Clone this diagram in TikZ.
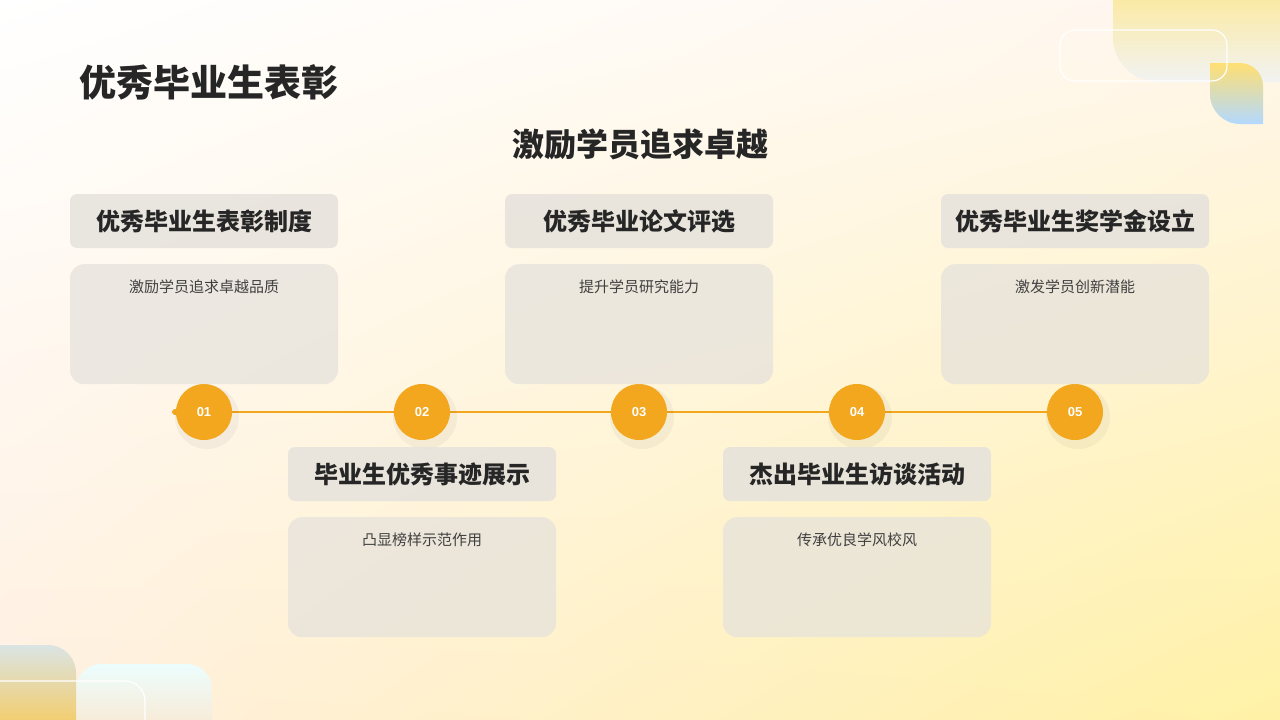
\documentclass[tikz,border=0pt]{standalone}
\usepackage{fontspec}
\usetikzlibrary{shadings}
\newfontfamily\cjk{Noto Sans CJK SC}
\newfontfamily\lsans{Liberation Sans}
\newcommand\cjkb{\cjk\bfseries}
\definecolor{dotc}{HTML}{F2A71E}
\definecolor{boxc}{HTML}{E6E2DC}
\begin{document}
\begin{tikzpicture}[x=1pt,y=-1pt,
  hdr/.style={fill=boxc,fill opacity=0.85,rounded corners=7pt,minimum width=268pt,minimum height=54pt,font=\cjkb\fontsize{24}{26}\selectfont,text=black!85,text opacity=1},
  cnt/.style={fill=boxc,fill opacity=0.75,rounded corners=14pt,minimum width=268pt,minimum height=120pt,anchor=north},
  lbl/.style={text=black!75,font=\cjk\fontsize{15}{17}\selectfont,anchor=north},
  dot/.style={circle,fill=dotc,minimum size=56pt,text=white,font=\lsans\bfseries\fontsize{13}{14}\selectfont}]
\useasboundingbox (0,0) rectangle (1280,720);
\shade[upper left=white,upper right=orange!7,lower left=orange!12,lower right=orange!30!yellow!35] (0,0) rectangle (1280,720);
% decorations top right
\shade[top color=orange!40!yellow!50,bottom color=cyan!5!gray!10,rounded corners=45pt] (1113,-40) rectangle (1330,82);
\shade[top color=orange!45!yellow!55,bottom color=cyan!50!blue!30] (1210,63) -- (1240,63) arc[start angle=90,end angle=0,radius=23pt] -- (1263,124) -- (1240,124) arc[start angle=270,end angle=180,radius=30pt] -- cycle;
\draw[white,line width=1.2pt,rounded corners=15pt] (1060,30) rectangle (1227,81);
% decorations bottom left
\shade[top color=gray!15!cyan!8,bottom color=orange!25,rounded corners=25pt] (76,664) rectangle (212,760);
\shade[top color=cyan!15!gray!25,bottom color=orange!60!yellow!80,rounded corners=28pt] (-40,645) rectangle (76,760);
\draw[white,line width=1.2pt,rounded corners=20pt] (0,681) -- (145,681) -- (145,730);
% titles
\node[anchor=west,font=\cjkb\fontsize{37}{40}\selectfont,text=black!85] (title) at (76,82) {优秀毕业生表彰};
\node[font=\cjkb\fontsize{32}{34}\selectfont,text=black!85] (sub) at (640,144) {激励学员追求卓越};
% timeline
\draw[dotc,line width=2pt] (175,412) -- (1075,412);
\fill[dotc] (175,412) circle (3pt);
\foreach \i/\x in {1/204,2/422,3/639,4/857,5/1075}{
  \fill[black,opacity=0.04] (\x+3,417) circle (32pt);
  \node[dot] (d\i) at (\x,412) {0\i};}
% boxes
\node[hdr] (h1) at (204,221) {优秀毕业生表彰制度};
\node[cnt] (c1) at (204,264) {};
\node[lbl] (l1) at (204,276) {激励学员追求卓越品质};
\node[hdr] (h3) at (639,221) {优秀毕业论文评选};
\node[cnt] (c3) at (639,264) {};
\node[lbl] (l3) at (639,276) {提升学员研究能力};
\node[hdr] (h5) at (1075,221) {优秀毕业生奖学金设立};
\node[cnt] (c5) at (1075,264) {};
\node[lbl] (l5) at (1075,276) {激发学员创新潜能};
\node[hdr] (h2) at (422,474) {毕业生优秀事迹展示};
\node[cnt] (c2) at (422,517) {};
\node[lbl] (l2) at (422,529) {凸显榜样示范作用};
\node[hdr] (h4) at (857,474) {杰出毕业生访谈活动};
\node[cnt] (c4) at (857,517) {};
\node[lbl] (l4) at (857,529) {传承优良学风校风};
\end{tikzpicture}
\end{document}
